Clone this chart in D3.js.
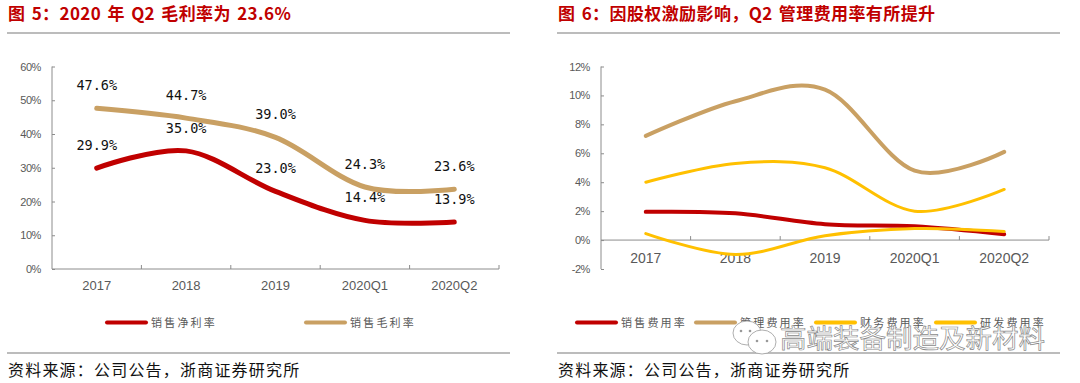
<!DOCTYPE html>
<html><head><meta charset="utf-8">
<script src="https://cdn.jsdelivr.net/npm/d3@7"></script>
<style>
body{margin:0;background:#fff;}
svg{display:block;}
</style></head>
<body>
<svg id="c" width="1080" height="383"></svg>
<script>
// ---- data ----
const categories = ["2017","2018","2019","2020Q1","2020Q2"];
const netMargin = [29.9, 35.0, 23.0, 14.4, 13.9];
const grossMargin = [47.6, 44.7, 39.0, 24.3, 23.6];
const leftTicks = [0,10,20,30,40,50,60];

const sellingExp = [1.95, 1.85, 1.1, 0.95, 0.4];
const adminExp = [7.2, 9.6, 10.4, 4.8, 6.1];
const financeExp = [0.45, -1.0, 0.3, 0.8, 0.6];
const rdExp = [4.0, 5.3, 5.0, 2.0, 3.5];
const rightTicks = [-2,0,2,4,6,8,10,12];

const leftTitle = "图 5：2020 年 Q2 毛利率为 23.6%";
const rightTitle = "图 6：因股权激励影响，Q2 管理费用率有所提升";
const sourceText = "资料来源：公司公告，浙商证券研究所";

const RED = "#C00000", TAN = "#C9A063", YEL = "#FFC000";
const AX = "#8C8C8C", LAB = "#595959";
const CJK = "'Noto Sans CJK SC', sans-serif";

const svg = d3.select("#c");

function frame(x0, x1, title){
  svg.append("text").attr("x", x0+1).attr("y", 20).text(title)
    .attr("font-family", CJK).attr("font-weight", "bold").attr("font-size", 17)
    .attr("letter-spacing", 0.4).attr("word-spacing", 2)
    .attr("fill", RED);
  svg.append("line").attr("x1", x0).attr("x2", x1).attr("y1", 33).attr("y2", 33)
    .attr("stroke", "#A6A6A6").attr("stroke-width", 1.5);
  svg.append("line").attr("x1", x0).attr("x2", x1).attr("y1", 353).attr("y2", 353)
    .attr("stroke", "#A6A6A6").attr("stroke-width", 1.5);
  svg.append("text").attr("x", x0+1).attr("y", 376).text(sourceText)
    .attr("font-family", CJK).attr("font-size", 16).attr("letter-spacing", 1.2)
    .attr("fill", "#111");
}

function chart(opt){
  const x = d3.scaleBand().domain(categories).range([opt.xl, opt.xr]);
  const y = d3.scaleLinear().domain(opt.dom).range([269, 66.5]);
  const g = svg.append("g");
  // y axis
  const ya = d3.axisLeft(y).tickValues(opt.ticks).tickSize(-3).tickPadding(opt.ypad)
    .tickFormat(d => d + "%");
  const yg = g.append("g").attr("transform", `translate(${opt.xl},0)`).call(ya);
  yg.select(".domain").attr("stroke", AX).attr("d", `M0,66.5H0V269`);
  yg.selectAll(".tick line").attr("stroke", AX);
  yg.selectAll("text").attr("fill", LAB).attr("font-size", 11)
    .attr("font-family", "'Liberation Sans', Arial, sans-serif").attr("letter-spacing", -0.4);
  // x axis line at 0
  const y0 = y(0);
  g.append("line").attr("x1", opt.xl).attr("x2", opt.xr).attr("y1", y0).attr("y2", y0)
    .attr("stroke", AX);
  const bounds = categories.map(c => x(c)).concat([opt.xr]);
  g.selectAll(".xt").data(bounds.slice(1)).enter().append("line")
    .attr("x1", d => d).attr("x2", d => d).attr("y1", y0).attr("y2", y0 - 4)
    .attr("stroke", AX);
  g.selectAll(".xl").data(categories).enter().append("text")
    .attr("x", d => x(d) + x.bandwidth()/2).attr("y", opt.xly)
    .attr("text-anchor", "middle").text(d => d)
    .attr("fill", LAB).attr("font-size", opt.xfs)
    .attr("font-family", "'Liberation Sans', Arial, sans-serif");
  const line = d3.line().curve(d3.curveCardinal.tension(0))
    .x((d, i) => x(categories[i]) + x.bandwidth()/2).y(d => y(d));
  opt.series.forEach(s => {
    g.append("path").attr("d", line(s.values)).attr("fill", "none")
      .attr("stroke", s.color).attr("stroke-width", s.w)
      .attr("stroke-linecap", "round").attr("stroke-linejoin", "round");
    if (s.labels) {
      g.selectAll(null).data(s.values).enter().append("text")
        .attr("x", (d, i) => x(categories[i]) + x.bandwidth()/2)
        .attr("y", d => y(d) - 18)
        .attr("text-anchor", "middle").text(d => d.toFixed(1) + "%")
        .attr("font-family", "'DejaVu Sans Mono', monospace").attr("font-size", 13.5)
        .attr("fill", "#111");
    }
  });
  // legend
  opt.series.forEach(s => {
    g.append("line").attr("x1", s.lx).attr("x2", s.lx + 39).attr("y1", 322.5).attr("y2", 322.5)
      .attr("stroke", s.color).attr("stroke-width", 4).attr("stroke-linecap", "round");
    g.append("text").attr("x", s.lx + 44).attr("y", 326.5).text(s.name)
      .attr("font-family", CJK).attr("font-size", 11).attr("letter-spacing", 2.2)
      .attr("fill", LAB);
  });
}

frame(7, 510, leftTitle);
frame(557, 1060, rightTitle);

chart({xl: 52, xr: 499, dom: [0, 60], ticks: leftTicks, ypad: 11, xly: 290, xfs: 13,
  series: [
    {name: "销售净利率", values: netMargin, color: RED, w: 5, labels: true, lx: 107},
    {name: "销售毛利率", values: grossMargin, color: TAN, w: 5, labels: true, lx: 306}
  ]});

chart({xl: 601, xr: 1049, dom: [-2, 12], ticks: rightTicks, ypad: 11, xly: 263, xfs: 14,
  series: [
    {name: "销售费用率", values: sellingExp, color: RED, w: 4, lx: 577},
    {name: "管理费用率", values: adminExp, color: TAN, w: 4, lx: 696},
    {name: "财务费用率", values: financeExp, color: YEL, w: 3, lx: 816},
    {name: "研发费用率", values: rdExp, color: YEL, w: 3, lx: 936}
  ]});

// watermark overlay
const wm = svg.append("g");
wm.append("ellipse").attr("cx", 747).attr("cy", 333).attr("rx", 14).attr("ry", 12)
  .attr("fill", "#fff").attr("stroke", "#999").attr("stroke-width", 0.8);
wm.append("ellipse").attr("cx", 762).attr("cy", 342).attr("rx", 14).attr("ry", 12)
  .attr("fill", "#fff").attr("stroke", "#999").attr("stroke-width", 0.8);
[[741,331],[750,331],[757,341],[767,341]].forEach(p => wm.append("circle").attr("cx", p[0]).attr("cy", p[1]).attr("r", 1.3).attr("fill", "#999"));
wm.append("text").attr("x", 780).attr("y", 348).text("高端装备制造及新材料")
  .attr("font-family", CJK).attr("font-size", 26.5).attr("fill", "#fff")
  .attr("stroke", "#8a8a8a").attr("stroke-width", 0.7);
</script>
</body></html>
